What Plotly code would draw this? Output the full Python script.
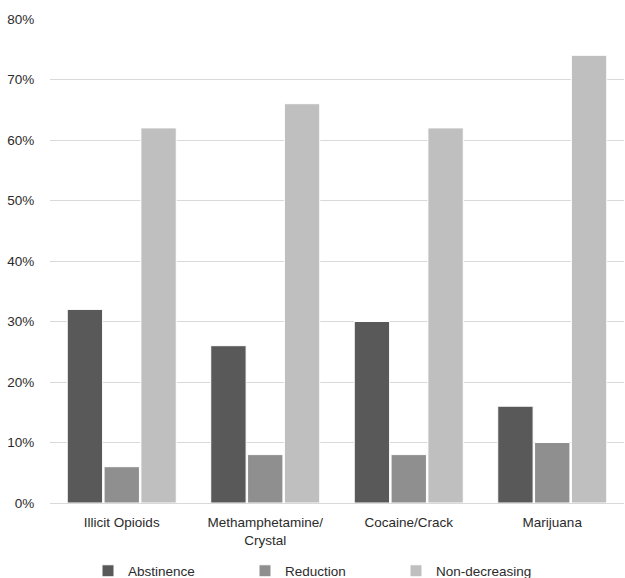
import plotly.graph_objects as go

categories = ["Illicit Opioids", "Methamphetamine/<br>Crystal", "Cocaine/Crack", "Marijuana"]
abstinence = [32, 26, 30, 16]
reduction = [6, 8, 8, 10]
non_decreasing = [62, 66, 62, 74]
y_ticks = [0, 10, 20, 30, 40, 50, 60, 70, 80]
y_tick_labels = [f"{v}%" for v in y_ticks]

series = [
    ("Abstinence", abstinence, "#595959", "legend"),
    ("Reduction", reduction, "#8f8f8f", "legend2"),
    ("Non-decreasing", non_decreasing, "#bfbfbf", "legend3"),
]

fig = go.Figure()
for name, vals, color, leg in series:
    fig.add_trace(go.Bar(
        x=categories, y=vals, name=name, legend=leg, showlegend=True,
        marker=dict(color=color, line=dict(color="white", width=1)),
    ))

L, R, T, B = 50, 1, 19, 75
W, H = 625, 578
pw = W - L - R
ph = H - T - B

def px_to_paper_x(px):
    return (px - L) / pw

def px_to_paper_y(py):
    return (H - B - py) / ph

font = dict(family="Liberation Sans, Arial, sans-serif", size=13.5, color="#2b2b2b")
legend_common = dict(orientation="h", yanchor="middle", y=px_to_paper_y(571), xanchor="left",
                     font=font, bgcolor="rgba(0,0,0,0)", itemwidth=30)

fig.update_layout(
    width=W, height=H,
    margin=dict(l=L, r=R, t=T, b=B, autoexpand=False),
    plot_bgcolor="white", paper_bgcolor="white",
    font=font,
    barmode="group", bargap=0.23, bargroupgap=0.04,
    legend=dict(x=px_to_paper_x(88), **legend_common),
    legend2=dict(x=px_to_paper_x(245), **legend_common),
    legend3=dict(x=px_to_paper_x(396), **legend_common),
    xaxis=dict(showgrid=False, showline=False, ticks="outside", ticklen=7,
               tickcolor="rgba(0,0,0,0)", tickfont=font),
    yaxis=dict(range=[0, 80], tickvals=y_ticks, ticktext=y_tick_labels,
               showgrid=True, gridcolor="#d9d9d9", gridwidth=1,
               zeroline=True, zerolinecolor="#d9d9d9", zerolinewidth=1,
               showline=False, ticks="outside", ticklen=12, tickcolor="rgba(0,0,0,0)",
               tickfont=font),
)

fig.write_html("out.html")
